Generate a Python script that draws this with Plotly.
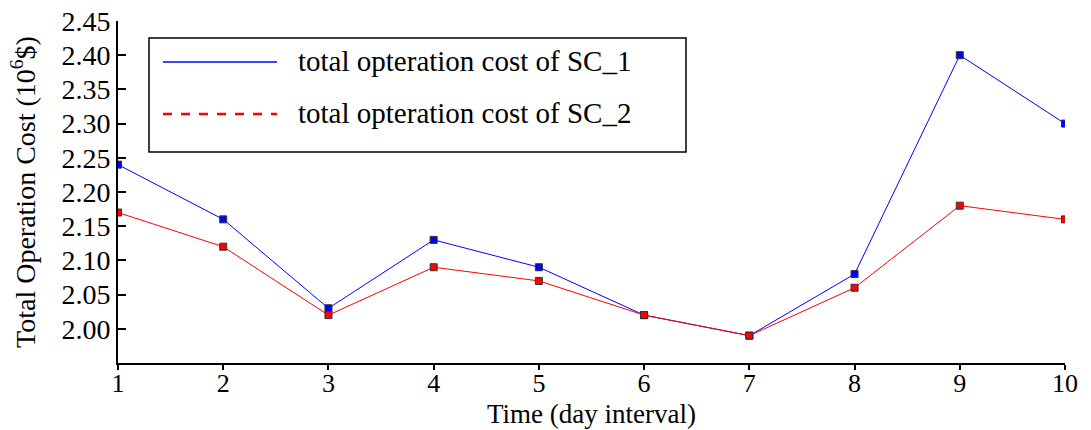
import plotly.graph_objects as go

days = [1, 2, 3, 4, 5, 6, 7, 8, 9, 10]
sc1_cost = [2.24, 2.16, 2.03, 2.13, 2.09, 2.02, 1.99, 2.08, 2.40, 2.30]
sc2_cost = [2.17, 2.12, 2.02, 2.09, 2.07, 2.02, 1.99, 2.06, 2.18, 2.16]
series_names = ["total opteration cost of SC_1", "total opteration cost of SC_2"]
y_ticks = [2.00, 2.05, 2.10, 2.15, 2.20, 2.25, 2.30, 2.35, 2.40, 2.45]
y_tick_text = ["%.2f" % v for v in y_ticks]
x_title = "Time (day interval)"
y_title = "Total Operation Cost (10<sup>6</sup>$)"

FONT = "Liberation Serif, Times New Roman, serif"
W, H = 1091, 430
L, R, T, B = 118, 26, 21, 67
pw, ph = W - L - R, H - T - B

def px(x):
    return (x - L) / pw

def py(y):
    return (H - B - y) / ph

fig = go.Figure()
fig.add_trace(go.Scatter(
    x=days, y=sc1_cost, mode="lines+markers", name=series_names[0],
    line=dict(color="#0000ff", width=1),
    marker=dict(symbol="square", size=7, color="#0000ff", line=dict(color="#333333", width=1)),
    showlegend=False,
))
fig.add_trace(go.Scatter(
    x=days, y=sc2_cost, mode="lines+markers", name=series_names[1],
    line=dict(color="#ff0000", width=1),
    marker=dict(symbol="square", size=7, color="#ff0000", line=dict(color="#333333", width=1)),
    showlegend=False,
))

# manual legend (box, samples, labels)
shapes = [
    dict(type="rect", xref="paper", yref="paper", x0=px(149), x1=px(686), y0=py(152), y1=py(38),
         line=dict(color="black", width=1.5), fillcolor="white", layer="above"),
    dict(type="line", xref="paper", yref="paper", x0=px(163), x1=px(277), y0=py(62), y1=py(62),
         line=dict(color="#0000ff", width=1.5), layer="above"),
    dict(type="line", xref="paper", yref="paper", x0=px(163), x1=px(277), y0=py(114), y1=py(114),
         line=dict(color="#ff0000", width=2.5, dash="dash"), layer="above"),
]
annotations = [
    dict(text=series_names[0], xref="paper", yref="paper", x=px(296), y=py(61),
         xanchor="left", yanchor="middle", showarrow=False, font=dict(family=FONT, size=29, color="black")),
    dict(text=series_names[1], xref="paper", yref="paper", x=px(296), y=py(113),
         xanchor="left", yanchor="middle", showarrow=False, font=dict(family=FONT, size=29, color="black")),
    dict(text=x_title, xref="paper", yref="paper", x=0.5, y=py(414),
         xanchor="center", yanchor="middle", showarrow=False, font=dict(family=FONT, size=27, color="black")),
]

fig.update_layout(
    width=W, height=H,
    margin=dict(l=L, r=R, t=T, b=B, autoexpand=False),
    paper_bgcolor="white", plot_bgcolor="white",
    font=dict(family=FONT, size=28, color="black"),
    shapes=shapes, annotations=annotations,
    showlegend=False,
)
fig.update_xaxes(
    range=[1, 10], tickvals=days, ticktext=[str(d) for d in days],
    showgrid=False, zeroline=False, showline=True, linecolor="black", linewidth=2,
    ticks="outside", ticklen=5, tickwidth=1.5, tickcolor="black",
    tickfont=dict(family=FONT, size=26), automargin=False, ticklabelstandoff=-9,
)
fig.update_yaxes(
    range=[1.95, 2.45], tickvals=y_ticks, ticktext=y_tick_text,
    showgrid=False, zeroline=False, showline=True, linecolor="black", linewidth=2,
    ticks="inside", ticklen=8, tickwidth=1.5, tickcolor="black",
    tickfont=dict(family=FONT, size=28), automargin=False,
    title=dict(text=y_title, font=dict(family=FONT, size=28), standoff=18),
)

fig.write_html("out.html")
